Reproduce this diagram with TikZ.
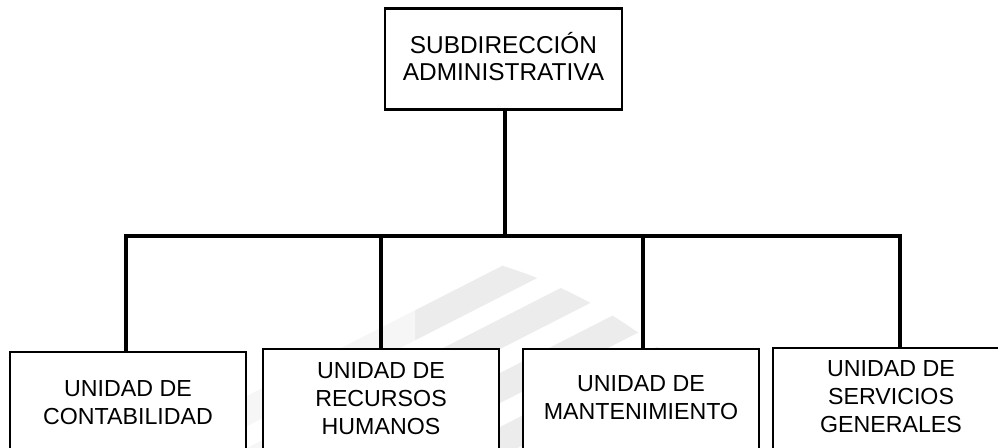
\documentclass[tikz,border=0pt]{standalone}
\usepackage{fontspec}
\setmainfont{Liberation Sans}
\begin{document}
\begin{tikzpicture}[x=0.75pt,y=-0.75pt,
  box/.style={draw=black, line width=1.7pt, fill=white, rectangle,
    minimum width=177pt, minimum height=97.5pt, inner sep=0pt, anchor=north},
  label/.style={align=center, inner sep=0pt,
    font=\fontsize{17.4}{21}\selectfont},
  conn/.style={draw=black, line width=3.6pt},
  banddark/.style={fill=gray!15},
  bandlight/.style={fill=gray!7}]
\clip (0,0) rectangle (998,447);
\fill[white] (0,0) rectangle (998,447);
% watermark (faint diagonal stripes clipped by a large circle)
\begin{scope}
  \clip (358,731) circle (365.25pt);
  \begin{scope}
    \clip (415,0) rectangle (998,447);
    \foreach \yy in {266,318,372,426}
      \fill[banddark] (150,{\yy+179.5}) -- (800,{\yy-152}) -- (800,{\yy-122}) -- (150,{\yy+209.5}) -- cycle;
  \end{scope}
  \begin{scope}
    \clip (0,0) rectangle (415,447);
    \foreach \yy in {266,318,372,426}
      \fill[bandlight] (150,{\yy+179.5}) -- (800,{\yy-152}) -- (800,{\yy-122}) -- (150,{\yy+209.5}) -- cycle;
  \end{scope}
\end{scope}
% top box
\node[box, anchor=center, align=center, minimum width=177.75pt, minimum height=75.75pt,
  font=\fontsize{18.3}{20.25}\selectfont] (top) at (503.5,59)
  {SUBDIRECCI\smash{Ó}N\\ADMINISTRATIVA};
% bottom boxes (their lower edges run past the picture)
\node[box] (b1) at (128,351) {};
\node[box] (b2) at (381,348) {};
\node[box] (b3) at (641,348) {};
\node[box] (b4) at (891,347) {};
\node[label] (t1) at (128,403) {UNIDAD DE\\CONTABILIDAD};
\node[label] (t2) at (381,399) {UNIDAD DE\\RECURSOS\\HUMANOS};
\node[label] (t3) at (641,398) {UNIDAD DE\\MANTENIMIENTO};
\node[label] (t4) at (891,397) {UNIDAD DE\\SERVICIOS\\GENERALES};
% connectors
\coordinate (junc) at (505,236);
\draw[conn] (top.south -| junc) -- (junc);
\draw[conn] ([xshift=-1.5pt]b1.north) |- (junc) -| ([xshift=6.75pt]b4.north);
\draw[conn] (b2.north) -- (b2.north |- junc);
\draw[conn] ([xshift=1.5pt]b3.north) -- ([xshift=1.5pt]b3.north |- junc);
\end{tikzpicture}
\end{document}
